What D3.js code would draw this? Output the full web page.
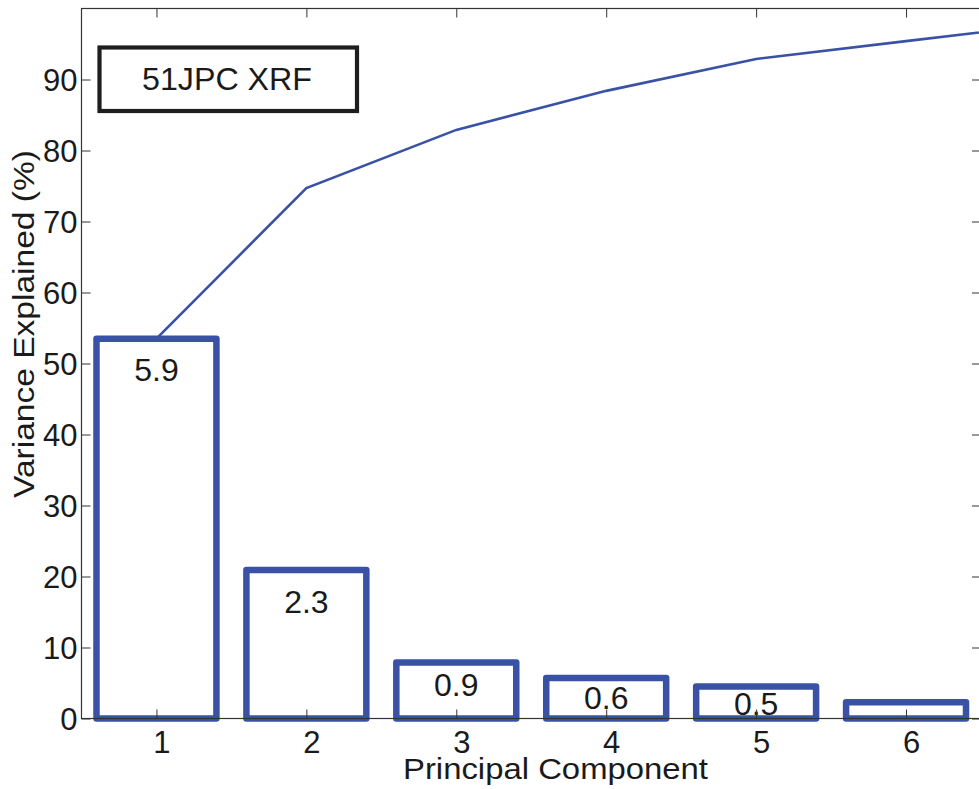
<!DOCTYPE html>
<html>
<head>
<meta charset="utf-8">
<script src="https://cdn.jsdelivr.net/npm/d3@7"></script>
<style>
  html, body { margin: 0; padding: 0; background: #fff; }
  svg { display: block; }
  text { font-family: "Liberation Sans", Arial, Helvetica, sans-serif; fill: #1a1a1a; }
</style>
</head>
<body>
<script>
// ---- data ----
const components = [1, 2, 3, 4, 5, 6];
const varianceExplained = [53.5, 20.9, 7.9, 5.7, 4.5, 2.3];
const eigenLabels = ["5.9", "2.3", "0.9", "0.6", "0.5", ""];
const cumulativeComponents = [1, 2, 3, 4, 5, 6, 7];
const cumulativeVariance = [53.5, 74.7, 82.9, 88.4, 92.9, 95.4, 97.9];
const yTicks = [0, 10, 20, 30, 40, 50, 60, 70, 80, 90];
const legendText = "51JPC XRF";
const xLabel = "Principal Component";
const yLabel = "Variance Explained (%)";

// ---- layout ----
const W = 979, H = 789;
const mLeft = 81.5, mRight = 981, mTop = 8.5, mBottom = 718.5;
const blue = "#3a52a5";
const axisColor = "#333";
const tickLen = 9;

const svg = d3.select("body").append("svg").attr("width", W).attr("height", H);

const x = d3.scaleLinear().domain([0.5, 6.5]).range([mLeft, mRight]);
const y = d3.scaleLinear().domain([0, 100]).range([mBottom, mTop]);
const barW = x(1.4) - x(0.6);

svg.append("defs").append("clipPath").attr("id", "plot")
  .append("rect").attr("x", mLeft).attr("y", mTop).attr("width", mRight - mLeft).attr("height", mBottom - mTop);

// cumulative line
svg.append("path")
  .attr("clip-path", "url(#plot)")
  .datum(cumulativeComponents.map((c, i) => [c, cumulativeVariance[i]]))
  .attr("fill", "none").attr("stroke", blue).attr("stroke-width", 2.6)
  .attr("d", d3.line().x(d => x(d[0])).y(d => y(d[1])));

// bars (outlined)
svg.append("g").selectAll("rect").data(components).join("rect")
  .attr("x", (d) => x(d) - barW / 2)
  .attr("y", (d, i) => y(varianceExplained[i]))
  .attr("width", barW)
  .attr("height", (d, i) => y(0) - y(varianceExplained[i]))
  .attr("fill", "none").attr("stroke", blue).attr("stroke-width", 6.5)
  .attr("stroke-linejoin", "round");

// bar labels
function labelCenter(v) { return Math.max(v - 4.4, 0.794 * v - 1.51); }
svg.append("g").selectAll("text").data(components).join("text")
  .attr("x", d => x(d))
  .attr("y", (d, i) => y(labelCenter(varianceExplained[i])))
  .attr("dy", "0.36em")
  .attr("text-anchor", "middle")
  .style("font-size", "32px")
  .text((d, i) => eigenLabels[i]);

// axes (box)
const gAx = svg.append("g");
const yAxisL = d3.axisLeft(y).tickValues(yTicks).tickSize(-tickLen).tickPadding(4).tickFormat(d3.format("d"));
const yAxisR = d3.axisRight(y).tickValues(yTicks).tickSize(-tickLen).tickFormat("");
const xAxisB = d3.axisBottom(x).tickValues(components).tickSize(-tickLen).tickPadding(12).tickFormat(d3.format("d"));
const xAxisT = d3.axisTop(x).tickValues(components).tickSize(-tickLen).tickFormat("");

function style(g) {
  g.select(".domain").remove();
  g.selectAll(".tick line").attr("stroke", axisColor).attr("stroke-width", 1);
  g.selectAll(".tick text").attr("fill", "#1a1a1a").style("font-size", "31px")
    .style("font-family", '"Liberation Sans", Arial, Helvetica, sans-serif');
}
gAx.append("g").attr("transform", `translate(${mLeft},0)`).call(yAxisL).call(style)
  .selectAll(".tick text").attr("x", -4).attr("dy", "0.35em");
gAx.append("g").attr("transform", `translate(${mRight},0)`).call(yAxisR).call(style);
gAx.append("g").attr("transform", `translate(0,${mBottom})`).call(xAxisB).call(style)
  .selectAll(".tick text").attr("dx", 5).attr("dy", "0.71em").attr("y", 12);
gAx.append("g").attr("transform", `translate(0,${mTop})`).call(xAxisT).call(style);

gAx.append("rect").attr("x", mLeft).attr("y", mTop).attr("width", mRight - mLeft).attr("height", mBottom - mTop)
  .attr("fill", "none").attr("stroke", axisColor).attr("stroke-width", 1.2);

// axis labels
svg.append("text")
  .attr("x", 555.5).attr("y", 779.3)
  .attr("text-anchor", "middle")
  .style("font-size", "29px")
  .attr("textLength", 305).attr("lengthAdjust", "spacingAndGlyphs")
  .text(xLabel);

svg.append("text")
  .attr("transform", "translate(33.5,324) rotate(-90)")
  .attr("text-anchor", "middle")
  .style("font-size", "29px")
  .attr("textLength", 348).attr("lengthAdjust", "spacingAndGlyphs")
  .text(yLabel);

// legend box
svg.append("rect")
  .attr("x", 99.5).attr("y", 47.5).attr("width", 357 - 99.5).attr("height", 111 - 47.5)
  .attr("fill", "#fff").attr("stroke", "#1e1e1e").attr("stroke-width", 4.2);
svg.append("text")
  .attr("x", 227).attr("y", 90)
  .attr("text-anchor", "middle")
  .style("font-size", "31px")
  .attr("textLength", 170).attr("lengthAdjust", "spacingAndGlyphs")
  .text(legendText);
</script>
</body>
</html>
